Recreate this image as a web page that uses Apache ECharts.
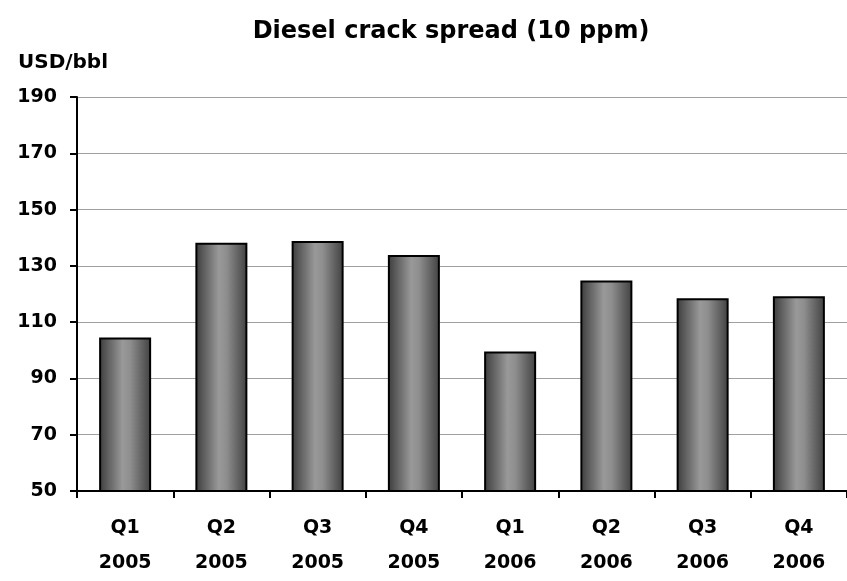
<!DOCTYPE html>
<html>
<head>
<meta charset="utf-8">
<script src="https://cdn.jsdelivr.net/npm/echarts@6/dist/echarts.min.js"></script>
<style>
  html, body { margin: 0; padding: 0; background: #fff; }
</style>
</head>
<body>
<div id="main" style="width: 847px; height: 581px"></div>
<script>
const quarters = ["Q1\n2005", "Q2\n2005", "Q3\n2005", "Q4\n2005", "Q1\n2006", "Q2\n2006", "Q3\n2006", "Q4\n2006"];
const spread = [104.5, 138.2, 138.8, 133.9, 99.6, 124.8, 118.5, 119.2];

const myChart = echarts.init(document.getElementById("main"));
const font = "DejaVu Sans, sans-serif";

const option = {
  animation: false,
  title: {
    text: "Diesel crack spread (10 ppm)",
    left: 446,
    top: 15,
    textAlign: "center",
    textStyle: { fontFamily: font, fontSize: 24, fontWeight: "bold", color: "#000" },
  },
  grid: {
    left: 77,
    top: 97,
    width: 782,
    height: 401,
  },
  xAxis: {
    type: "category",
    data: quarters,
    axisLine: { lineStyle: { color: "#000", width: 2 } },
    axisTick: { show: true, length: 7, lineStyle: { color: "#000", width: 2 } },
    axisLabel: {
      fontFamily: font,
      fontSize: 19,
      fontWeight: "bold",
      color: "#000",
      lineHeight: 35,
      margin: 20,
    },
  },
  yAxis: {
    type: "value",
    name: "USD/bbl",
    nameLocation: "end",
    nameGap: 24,
    nameTextStyle: {
      fontFamily: font,
      fontSize: 20,
      fontWeight: "bold",
      color: "#000",
      align: "left",
      padding: [0, 0, 0, -59],
    },
    min: 50,
    max: 190,
    interval: 20,
    axisLine: { show: true, lineStyle: { color: "#000", width: 2 } },
    axisTick: { show: true, length: 7, lineStyle: { color: "#000", width: 2 } },
    axisLabel: {
      fontFamily: font,
      fontSize: 19,
      fontWeight: "bold",
      color: "#000",
      margin: 20,
    },
    splitLine: { lineStyle: { color: "#a0a0a0", width: 1 } },
  },
  series: [
    {
      name: "Diesel crack spread",
      type: "bar",
      data: spread,
      barWidth: 52,
      itemStyle: {
        borderColor: "#000",
        borderWidth: 2,
        color: new echarts.graphic.LinearGradient(0, 0, 1, 0, [
          { offset: 0, color: "#3c3c3c" },
          { offset: 0.45, color: "#999999" },
          { offset: 0.6, color: "#8e8e8e" },
          { offset: 1, color: "#404040" },
        ]),
      },
    },
  ],
};
myChart.setOption(option);
</script>
</body>
</html>
